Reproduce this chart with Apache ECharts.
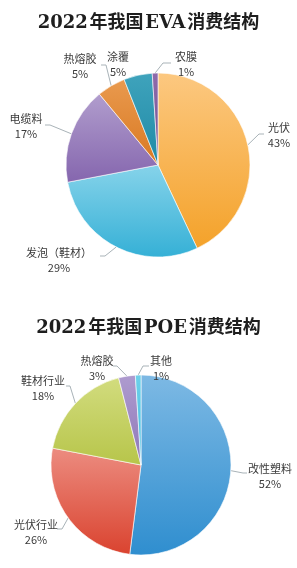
<!DOCTYPE html>
<html>
<head>
<meta charset="utf-8">
<script src="https://cdn.jsdelivr.net/npm/echarts@6/dist/echarts.min.js"></script>
<style>
html,body{margin:0;padding:0;background:#fff;}
#chart{width:297px;height:568px;}
</style>
</head>
<body>
<div id="chart"></div>
<script>
// ---- data ----
const evaTitle = '2022\u200A年我国\u200AEVA\u200A消费结构';
const evaNames = ['光伏', '发泡（鞋材）', '电缆料', '热熔胶', '涂覆', '农膜'];
const evaValues = [43, 29, 17, 5, 5, 1];

const poeTitle = '2022\u200A年我国\u200APOE\u200A消费结构';
const poeNames = ['改性塑料', '光伏行业', '鞋材行业', '热熔胶', '其他'];
const poeValues = [52, 26, 18, 3, 1];

// ---- styles ----
const evaColors = [
  ['#FCC880', '#F4A22A'],
  ['#86D3EA', '#35B0D6'],
  ['#B19DCD', '#8566AE'],
  ['#E99A4E', '#D97822'],
  ['#3FA3BC', '#1F8AA6'],
  ['#8E6BAC', '#74508F']
];
const poeColors = [
  ['#7DB9E4', '#2F8ECF'],
  ['#EC8C80', '#DA432F'],
  ['#D2DC7E', '#B7C54A'],
  ['#AE9BCF', '#8E78B8'],
  ['#6ED0EA', '#3DBBDF']
];

// label placement: [centerX, centerY, bendX, bendY, endX, endY] (null = no line)
const evaLabelPos = [
  [279, 135, 259, 134, 264, 134],
  [59, 260, 105, 256, 100, 256],
  [26, 126, 50, 125, 45, 125],
  [80, 66, 106, 65, 101, 65],
  [118, 64, null],
  [186, 64, 163, 63, 171, 63]
];
const poeLabelPos = [
  [270, 476, 243, 473, 247, 473],
  [36, 532, 62, 529, 57, 529],
  [43, 388, 70, 386, 66, 386],
  [97, 368, 117, 366, 113, 366],
  [161, 368, 143, 366, 149, 366]
];

function grad(c) {
  return new echarts.graphic.LinearGradient(0, 0, 0, 1, [
    { offset: 0, color: c[0] },
    { offset: 1, color: c[1] }
  ]);
}

function buildData(names, values, colors, pos) {
  return names.map((n, i) => ({
    name: n,
    value: values[i],
    itemStyle: { color: grad(colors[i]) },
    labelLine: { show: pos[i][2] != null }
  }));
}

function layoutFn(pos) {
  return function (params) {
    const p = pos[params.dataIndex];
    const res = { x: p[0], y: p[1], align: 'center', verticalAlign: 'middle' };
    if (p[2] != null && params.labelLinePoints) {
      const e = params.labelLinePoints[0];
      res.labelLinePoints = [[e[0], e[1]], [p[2], p[3]], [p[4], p[5]]];
    }
    return res;
  };
}

const labelStyle = {
  show: true,
  position: 'outside',
  formatter: '{b}\n{c}%',
  fontSize: 11,
  lineHeight: 15,
  color: '#3a3a3a',
  fontFamily: '"Noto Sans CJK SC", "Noto Sans", sans-serif'
};
const lineStyle = { lineStyle: { color: '#a9b3b8', width: 1 }, length: 8, length2: 6, smooth: false };

const titleText = {
  fontSize: 18,
  fontWeight: 'bold',
  color: '#1e1e1e',
  fontFamily: '"DejaVu Serif", "Noto Sans CJK SC", serif'
};

const chart = echarts.init(document.getElementById('chart'), null, { renderer: 'canvas' });
chart.setOption({
  backgroundColor: '#ffffff',
  animation: false,
  title: [
    { text: evaTitle, left: 'center', top: 9, textStyle: titleText },
    { text: poeTitle, left: 'center', top: 314, textStyle: titleText }
  ],
  series: [
    {
      type: 'pie',
      center: [158, 165],
      radius: 92,
      startAngle: 90,
      clockwise: true,
      avoidLabelOverlap: false,
      itemStyle: { borderColor: '#ffffff', borderWidth: 0.6 },
      label: labelStyle,
      labelLine: lineStyle,
      labelLayout: layoutFn(evaLabelPos),
      data: buildData(evaNames, evaValues, evaColors, evaLabelPos)
    },
    {
      type: 'pie',
      center: [141, 465],
      radius: 90,
      startAngle: 90,
      clockwise: true,
      avoidLabelOverlap: false,
      itemStyle: { borderColor: '#ffffff', borderWidth: 0.6 },
      label: labelStyle,
      labelLine: lineStyle,
      labelLayout: layoutFn(poeLabelPos),
      data: buildData(poeNames, poeValues, poeColors, poeLabelPos)
    }
  ]
});
</script>
</body>
</html>
